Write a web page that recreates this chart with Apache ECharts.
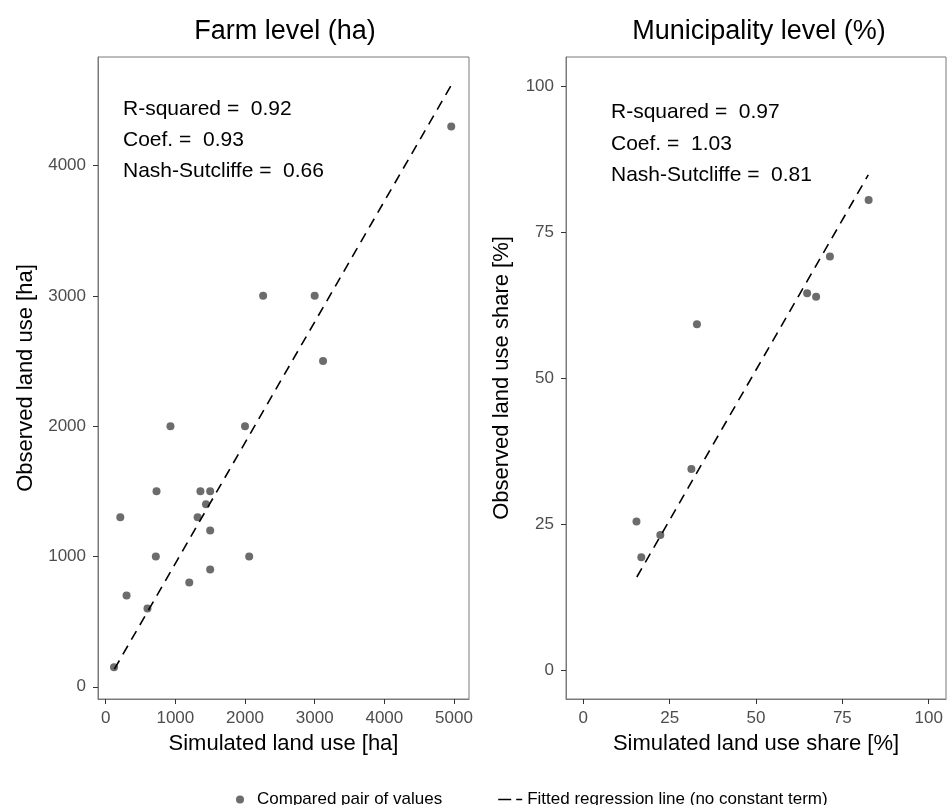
<!DOCTYPE html>
<html>
<head>
<meta charset="utf-8">
<script src="https://cdn.jsdelivr.net/npm/echarts@6/dist/echarts.min.js"></script>
<style>
  html, body { margin: 0; padding: 0; background: #fff; }
  #chart { width: 948px; height: 805px; }
</style>
</head>
<body>
<div id="chart"></div>
<script>
// farm level, hectares
const farmSimulated = [4960, 2260, 3000, 3120, 930, 2000, 730, 1360, 1500, 1440, 210, 1320, 1500, 720, 2060, 1500, 1200, 300, 600, 120];
const farmObserved  = [4300, 3000, 3000, 2500, 2000, 2000, 1500, 1500, 1500, 1400, 1300, 1300, 1200, 1000, 1000, 900, 800, 700, 600, 150];
const farmFitX = [125, 4975];
const farmFitY = [135, 4630];

// municipality level, percent share
const muniSimulated = [82.6, 71.4, 64.8, 67.4, 32.9, 31.3, 15.4, 22.3, 16.8];
const muniObserved  = [80.5, 70.8, 64.5, 63.9, 59.2, 34.4, 25.4, 23.1, 19.3];
const muniFitX = [15.5, 82.5];
const muniFitY = [15.9, 84.8];

const farmXTicks = [0, 1000, 2000, 3000, 4000, 5000];
const farmYTicks = [0, 1000, 2000, 3000, 4000];
const muniTicks = [0, 25, 50, 75, 100];

const farmStats = ["R-squared =  0.92", "Coef. =  0.93", "Nash-Sutcliffe =  0.66"];
const muniStats = ["R-squared =  0.97", "Coef. =  1.03", "Nash-Sutcliffe =  0.81"];

const POINT_NAME = "Compared pair of values";
const FIT_NAME = "Fitted regression line (no constant term)";

const FONT = "'Liberation Sans', Arial, sans-serif";
const pts = (xs, ys) => xs.map((x, i) => [x, ys[i]]);

function valueAxis(gridIndex, min, max, ticks, name, nameGap, isY) {
  return {
    type: "value",
    gridIndex,
    min, max,
    name,
    nameLocation: "middle",
    nameGap,
    nameTextStyle: { color: "#000", fontSize: 22, fontFamily: FONT },
    axisLine: { show: true, onZero: false, lineStyle: { color: "#7a7a7a", width: 1 } },
    axisTick: { show: true, inside: false, length: 5, customValues: ticks, lineStyle: { color: "#333", width: 1 } },
    axisLabel: {
      color: "#4d4d4d", fontSize: 17, fontFamily: FONT, margin: isY ? 12 : 11,
      customValues: ticks, formatter: (v) => String(v),
    },
    splitLine: { show: false },
  };
}

const grid = [
  { left: 98, top: 57, width: 371, height: 642, show: true, borderColor: "#7a7a7a", borderWidth: 1, backgroundColor: "transparent" },
  { left: 566, top: 57, width: 380, height: 642, show: true, borderColor: "#7a7a7a", borderWidth: 1, backgroundColor: "transparent" },
];

const statText = (lines, x, ys) => lines.map((t, i) => ({
  type: "text",
  left: x, top: ys[i] - 11,
  style: { text: t, fill: "#000", font: `21px ${FONT}` },
}));

const scatter = (idx, xs, ys) => ({
  name: POINT_NAME, type: "scatter", xAxisIndex: idx, yAxisIndex: idx,
  symbolSize: 8, itemStyle: { color: "#474747" },
  data: pts(xs, ys),
});
const fit = (idx, xs, ys) => ({
  name: FIT_NAME, type: "line", xAxisIndex: idx, yAxisIndex: idx,
  symbol: "none", z: 3,
  lineStyle: { color: "#000", width: 1.6, type: [10, 7] },
  itemStyle: { color: "#000" },
  data: pts(xs, ys),
});

const titleStyle = { fontSize: 27, fontWeight: "normal", color: "#000", fontFamily: FONT };

const option = {
  animation: false,
  backgroundColor: "#fff",
  textStyle: { fontFamily: FONT },
  title: [
    { text: "Farm level (ha)", left: 280, top: 13, textAlign: "center", textStyle: titleStyle },
    { text: "Municipality level (%)", left: 754, top: 13, textAlign: "center", textStyle: titleStyle },
  ],
  grid,
  xAxis: [
    valueAxis(0, -110, 5215, farmXTicks, "Simulated land use [ha]", 34, false),
    valueAxis(1, -5, 105, muniTicks, "Simulated land use share [%]", 34, false),
  ],
  yAxis: [
    valueAxis(0, -94, 4833, farmYTicks, "Observed land use [ha]", 61, true),
    valueAxis(1, -5, 105, muniTicks, "Observed land use share [%]", 53, true),
  ],
  legend: {
    left: 231, top: 786,
    itemWidth: 24, itemHeight: 8, itemGap: 56,
    textStyle: { color: "#000", fontSize: 17, fontFamily: FONT },
    data: [
      { name: POINT_NAME, icon: "circle" },
      { name: FIT_NAME, icon: "path://M0,0h13v1.6h-13z M18,0h6v1.6h-6z" },
    ],
  },
  graphic: [
    ...statText(farmStats, 123, [110, 141, 172]),
    ...statText(muniStats, 611, [113, 145, 176]),
  ],
  series: [
    scatter(0, farmSimulated, farmObserved),
    fit(0, farmFitX, farmFitY),
    scatter(1, muniSimulated, muniObserved),
    fit(1, muniFitX, muniFitY),
  ],
};

echarts.init(document.getElementById("chart"), null, { renderer: "canvas" }).setOption(option);
</script>
</body>
</html>
